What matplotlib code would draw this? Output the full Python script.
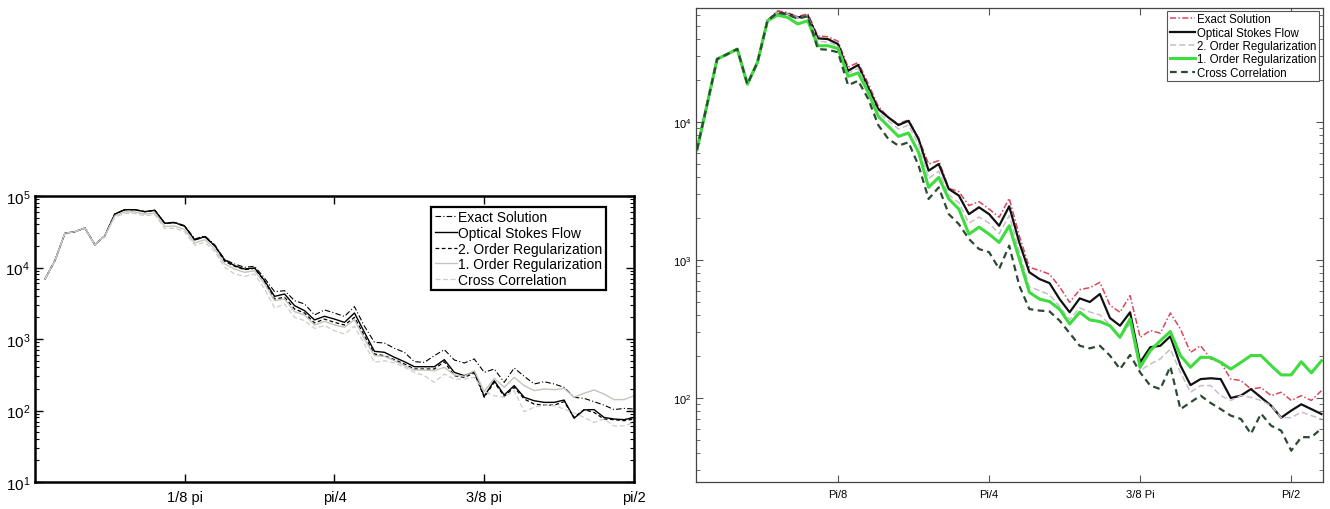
import matplotlib

matplotlib.use("Agg")
import matplotlib.pyplot as plt
import numpy as np

plt.rcParams["font.family"] = ["Liberation Sans", "DejaVu Sans"]
plt.rcParams["mathtext.fontset"] = "custom"
plt.rcParams["mathtext.rm"] = "Liberation Sans"
plt.rcParams["mathtext.it"] = "Liberation Sans:italic"
plt.rcParams["mathtext.bf"] = "Liberation Sans:bold"

LABELS = ["Exact Solution", "Optical Stokes Flow", "2. Order Regularization",
          "1. Order Regularization", "Cross Correlation"]

# ---- linke Grafik (Graustufen), Stuetzstellen k*pi/120, k=1..60
exact_l = [6900, 12500, 30100, 31700, 35700, 20800, 27800, 56000, 64400, 64400,
           60400, 63100, 42000, 43000, 38500, 25000, 27800, 20800,
           12900, 11200, 10070, 10400, 7060, 4590, 4740, 3440, 3090, 2170, 2550,
           2310, 2070, 2840, 1510, 900, 880, 741, 652, 482, 472,
           585, 710, 509, 462, 526, 342, 381, 248, 393, 301, 235, 253, 235, 211,
           153, 148, 133, 119, 103, 107, 105]
stokes_l = [6900, 12500, 30100, 31700, 35700, 20800, 27800, 56000, 64400, 64400,
            60400, 63100, 41500, 42400, 37700, 24300, 27000, 20200,
            12800, 10600, 9530, 9850, 6540, 3950, 4260, 2930, 2490, 1850, 2080,
            1900, 1710, 2310, 1240, 673, 652, 555, 482, 410, 410,
            410, 514, 342, 307, 349, 158, 261, 165, 223, 153, 137, 130, 130, 140,
            78, 102, 103, 80, 76, 74.5, 80]
order2_l = [6900, 12500, 30100, 31700, 35700, 20800, 27800, 56000, 64400, 64400,
            60400, 63100, 41500, 42400, 37700, 24300, 27000, 20200,
            12200, 10400, 9330, 9740, 6340, 3630, 3830, 2630, 2310, 1680, 1900,
            1710, 1570, 2010, 1110, 618, 585, 514, 448, 381, 381,
            381, 482, 307, 291, 335, 153, 248, 158, 211, 145, 123, 119, 119, 133,
            80, 103, 94, 76, 74.5, 72, 76]
order1_l = [6900, 12500, 30100, 31700, 35700, 20800, 27800, 53000, 60000, 60000,
            56000, 58000, 37500, 38000, 34000, 22000, 24500, 18300,
            11200, 9530, 8560, 9040, 5890, 3440, 3630, 2410, 2170, 1570, 1770,
            1570, 1460, 1870, 1000, 585, 573, 498, 424, 369, 369,
            361, 402, 314, 301, 361, 184, 282, 211, 291, 223, 190, 200, 196, 204,
            153, 174, 194, 170, 142, 142, 161]
cross_l = [6900, 12500, 30100, 31700, 35700, 20800, 27800, 51000, 57000, 57000,
           53000, 55000, 35000, 35500, 31500, 20500, 22500, 16800,
           10070, 8110, 7530, 8110, 5010, 2720, 3090, 2010, 1810, 1410, 1540,
           1310, 1175, 1510, 852, 472, 498, 462, 402, 342, 307,
           248, 324, 276, 276, 291, 184, 161, 153, 190, 96, 111, 119, 117, 105,
           92, 80, 68, 76, 61, 61, 68]

# ---- rechte Grafik (Farbe), k=1..63
exact_r = [6300, 13400, 28600, 31000, 33800, 18800, 27000, 54500, 64000, 62000,
           58000, 61000, 42000, 41500, 38500, 25000, 27000, 19000, 13000,
           10800, 9660, 10400, 7620, 4960, 5250, 3310, 3130, 2480, 2650, 2340,
           2040, 2800, 1500, 885, 840, 790, 640, 493, 610, 630, 689, 470,
           418, 552, 275, 308, 295, 413, 316, 214, 239, 192, 181, 137, 134, 116,
           119, 104, 110, 96, 104, 96, 113]
stokes_r = [6300, 13400, 28600, 31000, 33800, 18800, 27000, 54200, 62300, 60600,
            57300, 58900, 40400, 39900, 36700, 23500, 25900, 17800, 12400,
            10800, 9500, 10200, 7530, 4440, 4960, 3270, 2930, 2150, 2410, 2150,
            1770, 2450, 1340, 815, 728, 680, 521, 418, 527, 496, 567, 380,
            334, 418, 181, 233, 239, 280, 172, 124, 137, 139, 137, 100, 104, 116,
            101, 88, 72, 81, 90, 83, 76.5]
order2_r = [6300, 13400, 28600, 31000, 33800, 18800, 27000, 54200, 62300, 60600,
            57300, 58900, 38500, 38000, 35500, 22500, 24500, 17000, 11700,
            10200, 8900, 9500, 6900, 3900, 4400, 2950, 2600, 1850, 2050, 1850,
            1550, 2100, 1150, 640, 600, 560, 460, 370, 450, 420, 400, 340,
            275, 344, 158, 176, 192, 226, 153, 110, 123, 123, 104, 96, 104, 101,
            96, 88, 72, 72, 79, 74.5, 70.5]
order1_r = [6300, 13400, 28600, 31000, 33800, 18800, 27000, 54200, 59500, 57300,
            51300, 54200, 35700, 35700, 34100, 21400, 22700, 16400, 11000,
            9300, 7870, 8320, 6030, 3360, 3970, 2770, 2340, 1540, 1730, 1540,
            1340, 1770, 1020, 583, 521, 500, 440, 344, 418, 368, 358, 334,
            275, 374, 167, 220, 260, 303, 203, 167, 197, 197, 181, 162, 181, 203,
            203, 172, 147, 147, 183, 152, 186]
cross_r = [6300, 13400, 28600, 31000, 33800, 18800, 27000, 54200, 62000, 60000,
           56000, 58500, 33800, 33400, 32000, 18500, 19900, 14700, 9500,
           7530, 6740, 7130, 4830, 2770, 3360, 2150, 1820, 1420, 1200, 1140,
           861, 1270, 652, 441, 430, 424, 364, 295, 239, 229, 239, 203,
           162, 205, 153, 123, 116, 169, 83, 93, 104, 92, 83, 74.5, 70.5, 55,
           77, 63, 58, 41.5, 52, 52, 60]

TICKS = np.pi / 8 * np.arange(1, 5)
XT_L = ["1/8 pi", "pi/4", "3/8 pi", "pi/2"]
XT_R = ["Pi/8", "Pi/4", "3/8 Pi", "Pi/2"]


def xs(vals):
    return np.arange(1, len(vals) + 1) * np.pi / 120


fig = plt.figure(figsize=(13.3, 5.1), dpi=100)

# linke Achse
ax = fig.add_axes([0.0263, 0.0529, 0.4504, 0.5608])
styles_l = [
    (exact_l, dict(color="black", ls=(0, (5, 2, 1, 2)), lw=0.8)),
    (stokes_l, dict(color="black", ls="-", lw=1.0)),
    (order2_l, dict(color="black", ls=(0, (3, 2)), lw=0.9)),
    (order1_l, dict(color="#c4c4bc", ls="-", lw=1.0)),
    (cross_l, dict(color="#cdcdcd", ls=(0, (4, 2)), lw=0.9)),
]
for (vals, kw), lab in zip(styles_l, LABELS):
    ax.plot(xs(vals), vals, label=lab, **kw)
ax.set_yscale("log")
ax.set_xlim(0, np.pi / 2)
ax.set_ylim(10, 1e5)
ax.set_xticks(TICKS)
ax.set_xticklabels(XT_L)
ax.tick_params(which="both", direction="in", top=True, right=True, labelsize=10.5)
ax.tick_params(axis="y", labelsize=11)
ax.tick_params(which="major", length=6, width=1.0)
ax.tick_params(which="minor", length=3, width=0.8)
ax.tick_params(axis="x", pad=6)
for s in ax.spines.values():
    s.set_linewidth(1.8)
leg = ax.legend(loc="upper right", bbox_to_anchor=(0.953, 0.962), fontsize=10,
                handlelength=1.6, handletextpad=0.1, labelspacing=0.12,
                borderpad=0.25, borderaxespad=0, fancybox=False, framealpha=1)
leg.get_frame().set_edgecolor("black")
leg.get_frame().set_linewidth(1.6)

# rechte Achse
ax2 = fig.add_axes([0.5233, 0.0529, 0.4714, 0.9294])
styles_r = [
    (exact_r, dict(color="#d9475a", ls=(0, (4, 1.5, 1, 1.5)), lw=1.1)),
    (stokes_r, dict(color="#111111", ls="-", lw=1.6)),
    (order2_r, dict(color="#c9bccb", ls=(0, (4, 2)), lw=1.1)),
    (order1_r, dict(color="#3fdc3f", ls="-", lw=2.2)),
    (cross_r, dict(color="#2c4a33", ls=(0, (3, 2)), lw=1.6)),
]
for (vals, kw), lab in zip(styles_r, LABELS):
    ax2.plot(xs(vals), vals, label=lab, **kw)
ax2.set_yscale("log")
ax2.set_xlim(0.9 * np.pi / 120, 63.15 * np.pi / 120)
ax2.set_ylim(24.6, 67000)
ax2.set_xticks(TICKS)
ax2.set_xticklabels(XT_R)
ax2.tick_params(which="both", direction="in", top=True, right=True, labelsize=8,
                color="#555555", pad=3)
ax2.tick_params(axis="x", pad=5)
ax2.tick_params(which="major", length=5, width=0.8)
ax2.tick_params(which="minor", length=3, width=0.6)
for s in ax2.spines.values():
    s.set_linewidth(0.9)
    s.set_color("#444444")
leg2 = ax2.legend(loc="upper right", bbox_to_anchor=(0.9936, 0.9937), fontsize=8.3,
                  handlelength=2.2, handletextpad=0.2, labelspacing=0.12,
                  borderpad=0.2, borderaxespad=0, fancybox=False, framealpha=1)
leg2.get_frame().set_edgecolor("#555555")
leg2.get_frame().set_linewidth(0.8)

fig.savefig("out.png", dpi=100)
